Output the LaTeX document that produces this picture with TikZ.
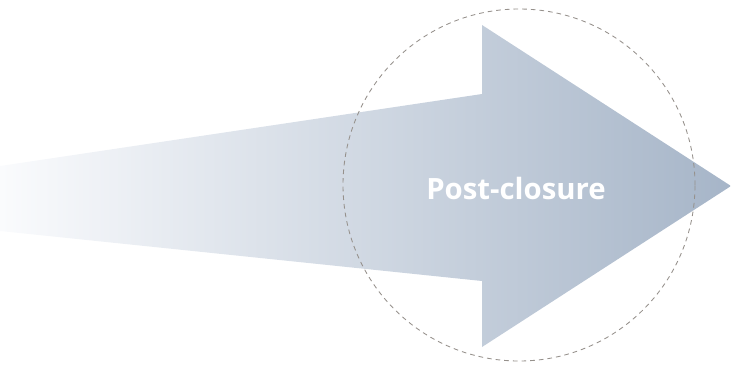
\documentclass[tikz,border=0pt]{standalone}
\usepackage{fontspec}
\setmainfont{Open Sans}
\definecolor{arrowL}{RGB}{250,251,253}
\definecolor{arrowM}{RGB}{224,229,236}
\definecolor{arrowR}{RGB}{166,181,200}
\definecolor{ringgray}{RGB}{150,145,140}
\tikzset{
  bigarrow/.style={left color=arrowL, middle color=arrowM, right color=arrowR, shading=axis, draw=none},
  ring/.style={circle, draw=ringgray, dash pattern=on 3.5pt off 3pt, line width=0.65pt, minimum size=264pt, inner sep=0pt},
  label/.style={text=white, font=\bfseries\fontsize{22}{25}\selectfont, inner sep=0pt}
}
\begin{document}
\begin{tikzpicture}[x=0.75pt,y=-0.75pt]
\useasboundingbox (0,0) rectangle (731,365);
\shade[bigarrow] (0,166) -- (482,94) -- (482,25) -- (731,186) -- (482,347) -- (482,281) -- (0,231) -- cycle;
\node[ring] (circ) at (519,185) {};
\node[label] (post) at (516,188) {Post-closure};
\end{tikzpicture}
\end{document}
